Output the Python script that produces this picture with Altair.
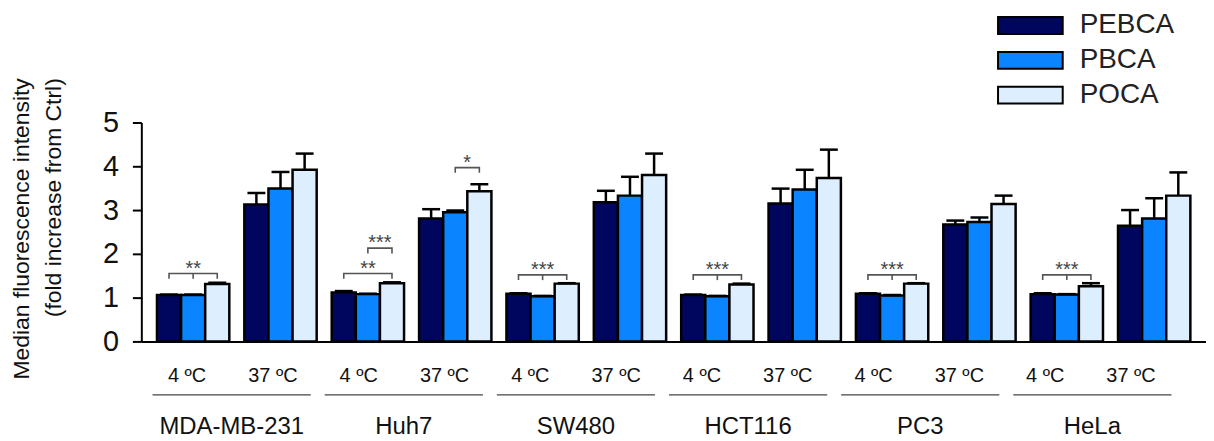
import altair as alt
import pandas as pd

cells = ["MDA-MB-231", "Huh7", "SW480", "HCT116", "PC3", "HeLa"]
temps = ["4 ºC", "37 ºC"]
polymers = ["PEBCA", "PBCA", "POCA"]
colors = ["#00065e", "#0a84ff", "#ddeeff"]

# mean values per cell line (PEBCA, PBCA, POCA)
mean_4c = [[1.06, 1.06, 1.31], [1.12, 1.08, 1.33], [1.09, 1.03, 1.32],
           [1.06, 1.03, 1.30], [1.09, 1.05, 1.32], [1.08, 1.07, 1.26]]
mean_37c = [[3.13, 3.49, 3.92], [2.81, 2.95, 3.43], [3.18, 3.33, 3.80],
            [3.15, 3.47, 3.73], [2.67, 2.73, 3.14], [2.64, 2.81, 3.33]]
err_4c = [[0.01, 0.01, 0.03], [0.03, 0.01, 0.02], [0.01, 0.01, 0.01],
          [0.01, 0.01, 0.02], [0.01, 0.01, 0.01], [0.02, 0.01, 0.07]]
err_37c = [[0.26, 0.38, 0.37], [0.21, 0.04, 0.16], [0.26, 0.43, 0.49],
           [0.34, 0.45, 0.65], [0.09, 0.10, 0.19], [0.36, 0.46, 0.53]]

# significance brackets
br_cell = ["MDA-MB-231", "Huh7", "Huh7", "Huh7", "SW480", "HCT116", "PC3", "HeLa"]
br_temp = ["4 ºC", "4 ºC", "4 ºC", "37 ºC", "4 ºC", "4 ºC", "4 ºC", "4 ºC"]
br_from = ["PEBCA", "PEBCA", "PBCA", "PBCA", "PEBCA", "PEBCA", "PEBCA", "PEBCA"]
br_to = ["POCA"] * 8
br_level = [1.55, 1.55, 2.13, 3.97, 1.52, 1.52, 1.52, 1.52]
br_stars = ["**", "**", "***", "*", "***", "***", "***", "***"]
br_mid = [True, False, False, False, True, True, True, True]

REG = "Liberation Sans, Arial, sans-serif"
LEG = 0.12

groups = [f"{c}|{t}" for c in cells for t in temps]

rows = []
for i, c in enumerate(cells):
    for t, means, errs in (("4 ºC", mean_4c, err_4c), ("37 ºC", mean_37c, err_37c)):
        for j, p in enumerate(polymers):
            rows.append({"group": f"{c}|{t}", "polymer": p, "mean": means[i][j],
                         "upper": means[i][j] + errs[i][j]})
df = pd.DataFrame(rows)

brows, mrows, srows = [], [], []
for k in range(len(br_cell)):
    g = f"{br_cell[k]}|{br_temp[k]}"
    lv = br_level[k]
    pts = [(br_from[k], lv - LEG), (br_from[k], lv), (br_to[k], lv), (br_to[k], lv - LEG)]
    for o, (p, yv) in enumerate(pts):
        brows.append({"group": g, "polymer": p, "y": yv, "bid": k, "ord": o})
    if br_mid[k]:
        mrows.append({"group": g, "polymer": "PBCA", "y": lv, "y2": lv - LEG})
    shifted = br_from[k] == "PBCA"
    srows.append({"group": g, "polymer": "PBCA", "y": lv, "stars": br_stars[k], "shift": shifted})
bdf = pd.DataFrame(brows)
mdf = pd.DataFrame(mrows)
sdf = pd.DataFrame(srows)

X = alt.X("group:N", scale=alt.Scale(domain=groups, paddingInner=0.172, paddingOuter=0.179),
          axis=alt.Axis(labels=False, ticks=False, domain=True, domainColor="black",
                        domainWidth=2, title=None, grid=False))
XO = alt.XOffset("polymer:N", scale=alt.Scale(domain=polymers, paddingInner=0, paddingOuter=0))
Y = alt.Y("mean:Q", scale=alt.Scale(domain=[0, 5], nice=False, zero=True),
          axis=alt.Axis(values=[0, 1, 2, 3, 4, 5], tickSize=9, tickWidth=2, tickColor="black",
                        domainColor="black", domainWidth=2, labelFont=REG, labelFontSize=29,
                        labelColor="#111", labelPadding=14, grid=False,
                        title=["Median fluorescence intensity", "(fold increase from Ctrl)"],
                        titleFont=REG, titleFontSize=23, titleFontWeight="normal",
                        titleColor="#111", titleAngle=270, titleAlign="right",
                        titleBaseline="top", titleX=-131, titleY=-45, titleLineHeight=32))

bars = alt.Chart(df).mark_bar(stroke="black", strokeWidth=2.5).encode(
    x=X, xOffset=XO, y=Y,
    color=alt.Color("polymer:N", scale=alt.Scale(domain=polymers, range=colors),
                    legend=alt.Legend(orient="none", legendX=876, legendY=-115, title=None,
                                      symbolType="M-2,-0.52L2,-0.52L2,0.52L-2,0.52Z",
                                      symbolSize=1056, symbolStrokeColor="black",
                                      symbolStrokeWidth=2, symbolOpacity=1,
                                      labelFont=REG, labelFontSize=28, labelColor="#222",
                                      labelOffset=32, rowPadding=3, padding=0)))
err = alt.Chart(df).mark_rule(color="black", strokeWidth=2.5).encode(
    x=X, xOffset=XO, y="mean:Q", y2="upper:Q")
cap = alt.Chart(df).mark_tick(color="black", thickness=2.5, size=18, opacity=1).encode(
    x=X, xOffset=XO, y="upper:Q")
blines = alt.Chart(bdf).mark_line(color="#555", strokeWidth=1.6).encode(
    x=X, xOffset=XO, y="y:Q", detail="bid:N", order="ord:Q")
mticks = alt.Chart(mdf).mark_rule(color="#555", strokeWidth=1.6).encode(
    x=X, xOffset=XO, y="y:Q", y2="y2:Q")
stars_c = alt.Chart(sdf[~sdf["shift"]]).mark_text(font=REG, fontSize=20, color="#444",
                                                  baseline="alphabetic", dy=1).encode(
    x=X, xOffset=XO, y="y:Q", text="stars:N")
stars_s = alt.Chart(sdf[sdf["shift"]]).mark_text(font=REG, fontSize=20, color="#444",
                                                 baseline="alphabetic", dy=1, dx=12).encode(
    x=X, xOffset=XO, y="y:Q", text="stars:N")

main = alt.layer(bars, err, cap, blines, mticks, stars_c, stars_s)

tdf = pd.DataFrame({"lgroup": groups, "temp": [g.split("|")[1] for g in groups]})
tlabels = alt.Chart(tdf).mark_text(font=REG, fontSize=20, baseline="alphabetic",
                                   color="#111").encode(
    x=alt.X("lgroup:N", scale=alt.Scale(domain=groups, range=[2.9, 1037.7],
                                        paddingInner=0, paddingOuter=0), axis=None),
    y=alt.value(261), text="temp:N")

cdf = pd.DataFrame({"cell": cells})
CX = alt.X("cell:N", scale=alt.Scale(domain=cells, range=[11.3, 1035.3],
                                     paddingInner=0.081, paddingOuter=0), axis=None)
cline = alt.Chart(cdf).mark_bar(color="#444").encode(x=CX, y=alt.value(273), y2=alt.value(274.4))
ctext = alt.Chart(cdf).mark_text(font=REG, fontSize=24, baseline="alphabetic",
                                 color="#111").encode(x=CX, y=alt.value(313), text="cell:N")
cell_layer = alt.layer(cline, ctext)

chart = alt.layer(main, tlabels, cell_layer).resolve_scale(x="independent").properties(
    width=1070, height=220,
    padding={"left": 134, "top": 114, "right": 0, "bottom": 97},
    autosize=alt.AutoSizeParams(type="none"),
).configure_view(stroke=None)

chart.save("out.html", embed_options={"renderer": "svg", "actions": False})
